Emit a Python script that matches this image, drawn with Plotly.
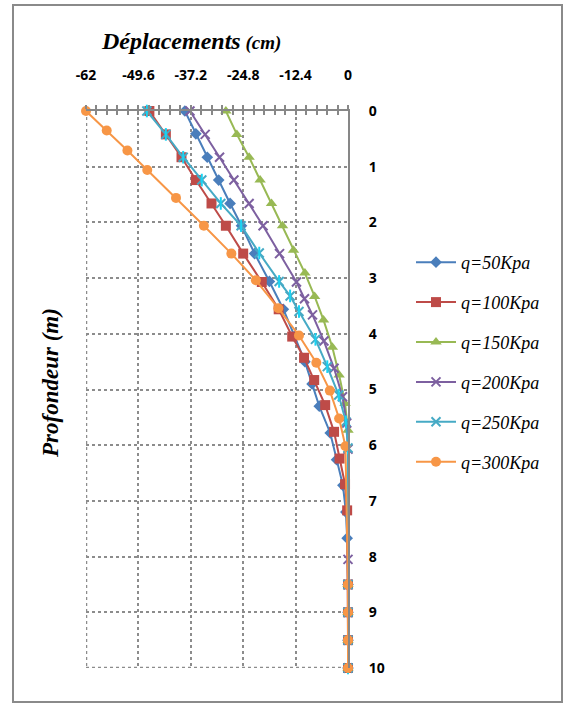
import plotly.graph_objects as go

# ---------------- data ----------------
x_ticks = [-62, -49.6, -37.2, -24.8, -12.4, 0]
x_tick_labels = ["-62", "-49.6", "-37.2", "-24.8", "-12.4", "0"]
y_ticks = [0, 1, 2, 3, 4, 5, 6, 7, 8, 9, 10]

names = ["q=50Kpa", "q=100Kpa", "q=150Kpa", "q=200Kpa", "q=250Kpa", "q=300Kpa"]

depth_50 = [0, 0.41, 0.83, 1.24, 1.66, 2.06, 2.56, 3.06, 3.56, 4.05, 4.5, 4.9, 5.30, 5.78, 6.26, 6.72, 7.2, 7.67, 8.5, 9.0, 9.5, 10.0]
disp_50 = [-38.6, -36.0, -33.3, -30.6, -27.9, -25.2, -22.1, -18.6, -15.3, -12.6, -10.2, -8.5, -6.8, -4.2, -2.7, -1.2, -0.5, -0.2, 0, 0, 0, 0]

depth_100 = [0, 0.42, 0.83, 1.24, 1.66, 2.06, 2.56, 3.07, 3.56, 4.05, 4.43, 4.83, 5.28, 5.76, 6.24, 6.70, 7.17, 8.5, 9.0, 9.5, 10.0]
disp_100 = [-47.0, -43.1, -39.4, -36.0, -32.3, -28.9, -24.8, -20.4, -16.4, -13.2, -10.4, -8.0, -5.4, -3.3, -2.0, -0.7, -0.2, 0, 0, 0, 0]

depth_150 = [0, 0.42, 0.83, 1.24, 1.66, 2.06, 2.50, 2.91, 3.33, 3.75, 4.24, 4.74, 5.25, 5.73, 8.5, 9.0, 9.5, 10.0]
disp_150 = [-28.9, -26.3, -23.4, -20.8, -18.1, -15.5, -12.9, -10.2, -7.9, -5.8, -3.7, -2.1, -0.7, 0, 0, 0, 0, 0]

depth_200 = [0, 0.42, 0.83, 1.24, 1.66, 2.06, 2.56, 3.07, 3.37, 3.66, 4.13, 4.62, 5.13, 5.60, 6.07, 8.05, 8.5, 9.0, 9.5, 10.0]
disp_200 = [-37.4, -33.8, -30.4, -27.0, -23.4, -20.1, -16.2, -12.2, -10.3, -8.4, -5.7, -3.3, -1.3, -0.3, 0, 0, 0, 0, 0, 0]

depth_250 = [0, 0.42, 0.83, 1.24, 1.66, 2.06, 2.55, 3.06, 3.32, 3.60, 4.10, 4.59, 5.10, 5.58, 6.05, 8.5, 9.0, 9.5, 10.0]
disp_250 = [-47.6, -43.1, -39.0, -34.6, -30.1, -25.3, -21.0, -16.3, -13.7, -11.6, -7.7, -4.9, -2.2, -0.5, 0, 0, 0, 0, 0]

depth_300 = [0, 0.35, 0.71, 1.06, 1.56, 2.06, 2.56, 3.04, 3.54, 4.03, 4.52, 5.02, 5.52, 6.02, 8.5, 9.0, 9.5, 10.0]
disp_300 = [-62.0, -57.1, -52.2, -47.5, -40.7, -34.1, -27.6, -21.8, -16.5, -11.6, -7.5, -4.3, -2.1, -0.6, 0, 0, 0, 0]

depths = [depth_50, depth_100, depth_150, depth_200, depth_250, depth_300]
disps = [disp_50, disp_100, disp_150, disp_200, disp_250, disp_300]
colors = ["#4A7EBB", "#BE4B48", "#98B954", "#7D60A0", "#46AAC5", "#F79646"]
symbols = ["diamond", "square", "triangle-up", "x-thin-open", "x-thin-open", "circle"]
sizes = [9, 10, 10, 9, 9, 10]

# ---------------- figure ----------------
L, R, T, B = 86, 348, 111, 668
W, H = 567, 704
def px(p):
    return (p - L) / (R - L)
def py(q):
    return (B - q) / (B - T)

fig = go.Figure()
for i in range(6):
    marker = dict(symbol=symbols[i], size=sizes[i], color=colors[i])
    if symbols[i].endswith("open"):
        marker["line"] = dict(color=colors[i], width=2)
    fig.add_trace(go.Scatter(
        x=disps[i], y=depths[i], name=names[i], mode="lines+markers",
        line=dict(color=colors[i], width=2), marker=marker,
        cliponaxis=False, legendgroup=names[i],
    ))
    if i == 4:
        # star marker: add the vertical bar of the asterisk
        fig.add_trace(go.Scatter(
            x=disps[i], y=depths[i], mode="markers", showlegend=False,
            legendgroup=names[i], hoverinfo="skip", cliponaxis=False,
            marker=dict(symbol="line-ns-open", size=9, line=dict(color=colors[i], width=2)),
        ))

# invisible trace to carry the cross-tick overlay axis
fig.add_trace(go.Scatter(x=[-62, 0], y=[0, 0], xaxis="x2", mode="markers",
                         marker=dict(opacity=0), showlegend=False, hoverinfo="skip"))

tickfont = dict(family="Open Sans", size=14, color="#000000", weight="bold")
grid = dict(showgrid=True, gridcolor="#8C8C8C", griddash="dot", gridwidth=1.5)

fig.update_layout(
    width=W, height=H,
    margin=dict(l=L, r=W - R, t=T, b=H - B),
    paper_bgcolor="white", plot_bgcolor="white",
    xaxis=dict(
        side="top", range=[-62, 0], tickvals=x_ticks, ticktext=x_tick_labels,
        tickfont=tickfont, showline=True, linecolor="#878787", linewidth=2,
        ticks="outside", ticklen=4, tickcolor="#878787", tickwidth=1.5,
        minor=dict(dtick=2.48, tick0=0, ticks="outside", ticklen=4, tickcolor="#878787", tickwidth=1.5, showgrid=False),
        ticklabelstandoff=19, zeroline=False, **grid,
    ),
    xaxis2=dict(
        overlaying="x", side="top", range=[-62, 0], tickvals=x_ticks, showticklabels=False,
        ticks="inside", ticklen=4, tickcolor="#878787", tickwidth=1.5,
        minor=dict(dtick=2.48, tick0=0, ticks="inside", ticklen=4, tickcolor="#878787", tickwidth=1.5),
        showgrid=False, showline=False, zeroline=False,
    ),
    yaxis=dict(
        side="right", range=[10, 0], tickvals=y_ticks, ticktext=[str(v) for v in y_ticks],
        tickfont=tickfont, showline=True, linecolor="#878787", linewidth=2, ticks="",
        ticklabelstandoff=16, zeroline=False, **grid,
    ),
    legend=dict(
        x=px(411), y=py(244), xanchor="left", yanchor="top",
        font=dict(family="Liberation Serif", size=18, color="#000000", style="italic"),
        tracegroupgap=13.5, bgcolor="rgba(0,0,0,0)", itemwidth=40,
    ),
    showlegend=True,
)

# boundary gridlines (left edge at -62 and bottom at depth 10)
fig.add_shape(type="line", xref="x", yref="y", x0=-62, x1=-62, y0=0, y1=10,
              line=dict(color="#8C8C8C", width=2.5, dash="dot"), layer="below")
fig.add_shape(type="line", xref="x", yref="y", x0=-62, x1=0, y0=10, y1=10,
              line=dict(color="#8C8C8C", width=2.5, dash="dot"), layer="below")

# frame around the chart
fig.add_shape(type="rect", xref="paper", yref="paper",
              x0=px(13), x1=px(562), y0=py(702), y1=py(5),
              line=dict(color="#8A8A8A", width=2), layer="below")

# titles
fig.add_annotation(
    xref="paper", yref="paper", x=px(191), y=py(41), xanchor="center", yanchor="middle",
    text="<b><i>Déplacements</i></b><b><i><span style='font-size:19px'> (cm)</span></i></b>",
    showarrow=False, font=dict(family="Liberation Serif", size=24, color="#000000"),
)
fig.add_annotation(
    xref="paper", yref="paper", x=px(50), y=py(383), xanchor="center", yanchor="middle",
    text="<b><i>Profondeur (m)</i></b>", textangle=-90,
    showarrow=False, font=dict(family="Liberation Serif", size=23, color="#000000"),
)

fig.write_html("out.html", config={"displayModeBar": False},
               post_script="document.body.style.margin='0px';")
